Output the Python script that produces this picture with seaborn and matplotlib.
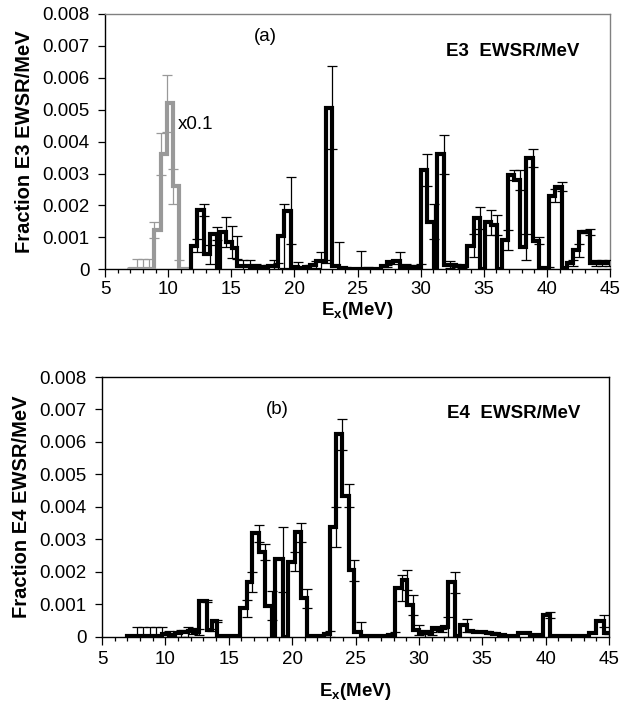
import numpy as np
import pandas as pd
import matplotlib
matplotlib.use("Agg")
import matplotlib.pyplot as plt
import seaborn as sns
from matplotlib.ticker import MultipleLocator, FixedLocator

# ---------------- data ----------------
# Panel (a): E3, gray part (shown x0.1), steps drawn "post" (value from x_i to x_{i+1}), error at x_i
e3_gray_x = [6.92, 7.5, 8.0, 8.5, 8.9, 9.42, 9.9, 10.4, 10.9, 11.7]
e3_gray_y = [0.0, 0.00002, 0.00002, 0.00002, 0.00123, 0.0036, 0.0052, 0.0026, 0.00002, 0.00002]
e3_gray_err = [0.0, 0.0003, 0.0003, 0.0003, 0.00026, 0.00066, 0.0009, 0.00054, 0.00026, 0.0]

# Panel (a): E3, black part, steps drawn "pre" (value from x_{i-1} to x_i), error at x_i
e3_x = [11.8, 12.29, 12.82, 13.34, 13.87, 14.13, 14.6, 15.08, 15.45, 15.97, 16.5,
        16.97, 17.45, 17.95, 18.4, 18.7, 19.18, 19.72, 20.25, 20.73, 21.2, 21.68,
        22.1, 22.48, 23.0, 23.55, 24.05, 24.55, 25.05, 25.3, 25.85, 26.35, 26.85,
        27.35, 27.85, 28.35, 28.85, 29.35, 30.0, 30.52, 31.05, 31.3, 31.84, 32.3,
        32.8, 33.25, 33.68, 34.2, 34.73, 35.1, 35.55, 36.05, 36.45, 36.9, 37.37,
        37.84, 38.37, 38.89, 39.34, 39.75, 40.13, 40.66, 41.18, 41.6, 42.1, 42.55,
        43.0, 43.43, 43.9, 44.4, 44.9]
e3_y = [0.0, 0.00074, 0.00186, 0.00047, 0.00112, 0.0, 0.00118, 0.00085, 0.00068, 0.0001, 0.0001,
        0.00008, 0.00005, 0.00005, 0.0001, 0.0001, 0.00104, 0.00184, 0.00008, 0.00003, 0.00008, 0.00015,
        0.00025, 0.00025, 0.00507, 0.0001, 0.00003, 0.00002, 0.00002, 0.00002, 0.00002, 0.00002, 0.00002,
        0.0001, 0.00022, 0.00025, 0.00008, 0.00008, 0.00008, 0.00311, 0.00149, 0.0, 0.0036, 0.00015,
        0.00012, 0.0001, 0.0001, 0.00074, 0.0016, 0.0, 0.00147, 0.00139, 0.0, 0.00092, 0.00295,
        0.0028, 0.0007, 0.00348, 0.0009, 0.00003, 0.00003, 0.00231, 0.00259, 0.00003, 0.0002, 0.0006,
        0.00118, 0.00116, 0.0002, 0.0002, 0.0002]
e3_err = [0.0, 0.0002, 0.0002, 0.0003, 0.0002, 0.0, 0.00047, 0.0005, 0.00037, 0.0002, 0.0002,
          0.0001, 0.0001, 0.0001, 0.0002, 0.0001, 0.001, 0.00104, 0.00015, 0.0, 0.00005, 0.0001,
          0.0003, 0.00005, 0.0013, 0.00075, 0.00003, 0.0, 0.0, 0.00055, 0.00005, 0.0, 0.0,
          0.00003, 0.00005, 0.0003, 0.0001, 0.00005, 0.0001, 0.0005, 0.00055, 0.0, 0.0006, 0.0001,
          0.00005, 0.00005, 0.0, 0.00037, 0.00035, 0.0, 0.0004, 0.0003, 0.0, 0.0003, 0.00015,
          0.0003, 0.0004, 0.00028, 0.0001, 0.00003, 0.00003, 0.0002, 0.00014, 0.0, 0.0001, 0.0002,
          0.00005, 0.0001, 0.0001, 0.0001, 0.0001]

# Panel (b): E4, steps drawn "pre", error at x_i
e4_x = [7.0, 7.75, 8.25, 8.75, 9.25, 9.75, 10.25, 10.75, 11.25, 11.75, 12.2, 12.66,
        13.26, 13.66, 14.05, 14.5, 15.0, 15.4, 15.9, 16.42, 16.87, 17.39, 17.87, 18.4,
        18.66, 19.3, 19.7, 20.2, 20.7, 21.17, 21.6, 22.1, 22.5, 23.0, 23.45, 23.93,
        24.45, 24.92, 25.4, 25.9, 26.4, 26.9, 27.4, 27.6, 28.1, 28.65, 29.1, 29.57,
        30.0, 30.5, 31.0, 31.54, 31.8, 32.33, 32.86, 33.25, 33.78, 34.3, 34.8, 35.3,
        35.8, 36.3, 36.8, 37.3, 37.8, 38.3, 38.8, 39.3, 39.83, 40.36, 40.9, 41.4,
        41.9, 42.4, 42.9, 43.4, 43.95, 44.57, 45.0]
e4_y = [0.0, 0.00003, 0.00003, 0.00003, 0.00003, 0.00003, 0.00008, 0.00005, 0.0001, 0.00015, 0.00018, 0.00015,
        0.0011, 0.0002, 0.00048, 0.00002, 0.00002, 0.00002, 0.00002, 0.00087, 0.00168, 0.00319, 0.00262, 0.00096,
        0.0, 0.00238, 0.0, 0.00231, 0.00321, 0.00118, 0.00002, 0.00002, 0.00003, 0.00008, 0.00337, 0.00624,
        0.00434, 0.00204, 0.00015, 0.00003, 0.00003, 0.00003, 0.00003, 0.00003, 0.00005, 0.00149, 0.00175, 0.00098,
        0.0002, 0.0001, 0.0001, 0.00026, 0.0002, 0.0003, 0.00167, 0.00003, 0.00036, 0.00018, 0.00016, 0.00015,
        0.00012, 0.00008, 0.00004, 0.00003, 0.00003, 0.0001, 0.0001, 0.00004, 0.00004, 0.00067, 0.00003, 0.00003,
        0.00003, 0.00003, 0.00003, 0.00003, 0.0001, 0.00049, 0.0001]
e4_err = [0.0, 0.00028, 0.00028, 0.00028, 0.00028, 0.00028, 0.0001, 0.00005, 0.0001, 0.00015, 0.0001, 0.0001,
          0.00003, 0.00003, 0.00003, 0.0, 0.0, 0.0, 0.0, 0.00025, 0.0003, 0.00026, 0.00025, 0.00045,
          0.0, 0.001, 0.0, 0.0003, 0.0003, 0.0003, 0.0, 0.0, 0.00003, 0.0001, 0.00062, 0.00048,
          0.00036, 0.00032, 0.0003, 0.0, 0.0, 0.0, 0.0, 0.0, 0.00008, 0.0004, 0.0003, 0.0003,
          0.00015, 0.0001, 0.00005, 0.00005, 0.00005, 0.0003, 0.00033, 0.0, 0.0002, 0.00003, 0.00003, 0.00003,
          0.00003, 0.0, 0.0, 0.0, 0.0, 0.0, 0.0, 0.0, 0.0, 0.0001, 0.0, 0.0,
          0.0, 0.0, 0.0, 0.0, 0.0, 0.00018, 0.00003]

y_ticks = [0, 0.001, 0.002, 0.003, 0.004, 0.005, 0.006, 0.007, 0.008]
y_tick_labels = ["0", "0.001", "0.002", "0.003", "0.004", "0.005", "0.006", "0.007", "0.008"]
x_ticks = [5, 10, 15, 20, 25, 30, 35, 40, 45]

# ---------------- style ----------------
sns.set_theme(style="ticks")
plt.rcParams["font.family"] = ["Liberation Sans", "DejaVu Sans"]
plt.rcParams["mathtext.fontset"] = "custom"
plt.rcParams["mathtext.rm"] = "Liberation Sans"
plt.rcParams["mathtext.bf"] = "Liberation Sans:bold"
plt.rcParams["text.color"] = "black"
plt.rcParams["axes.labelcolor"] = "black"
plt.rcParams["xtick.color"] = "black"
plt.rcParams["ytick.color"] = "black"

fig = plt.figure(figsize=(6.21, 7.09), dpi=100)
ax_a = fig.add_axes([105 / 621, 1 - 269.3 / 709, 505 / 621, 255.3 / 709])
ax_b = fig.add_axes([102 / 621, 1 - 636.7 / 709, 507 / 621, 259.7 / 709])

GRAY = "#999999"


def draw_steps(ax, x, y, err, where, color, lw=3.0):
    df = pd.DataFrame({"E": x, "val": y, "err": err})
    sns.lineplot(data=df, x="E", y="val", ax=ax, color=color, lw=lw,
                 drawstyle="steps-" + where, sort=False, estimator=None,
                 solid_joinstyle="miter", zorder=3)
    m = df["err"] > 0
    ax.errorbar(df.loc[m, "E"], df.loc[m, "val"], yerr=df.loc[m, "err"], fmt="none",
                ecolor=color, elinewidth=0.9, capsize=3.5, capthick=0.9, zorder=4)


draw_steps(ax_a, e3_gray_x, e3_gray_y, e3_gray_err, "post", GRAY)
draw_steps(ax_a, e3_x, e3_y, e3_err, "pre", "black")
draw_steps(ax_b, e4_x, e4_y, e4_err, "pre", "black")

panels = [
    (ax_a, "Fraction E3 EWSR/MeV", "(a)", "E3  EWSR/MeV", (37.3, 0.00684), (17.67, 0.00728), "#808080", 3, 1.5),
    (ax_b, "Fraction E4 EWSR/MeV", "(b)", "E4  EWSR/MeV", (37.5, 0.00687), (18.85, 0.00701), "black", 5, 9),
]
for ax, lab, panel, tag, tagpos, labpos, spine_col, tpad, lpad in panels:
    ax.set_xlim(5, 45)
    ax.set_ylim(0, 0.008)
    ax.xaxis.set_major_locator(FixedLocator(x_ticks))
    ax.xaxis.set_minor_locator(MultipleLocator(1))
    ax.set_yticks(y_ticks)
    ax.set_yticklabels(y_tick_labels)
    ax.tick_params(axis="y", which="major", direction="out", length=5, width=0.9,
                   labelsize=13.5, pad=6)
    ax.tick_params(axis="x", which="major", direction="out", length=5.5, width=0.9,
                   labelsize=13.5, pad=tpad)
    ax.tick_params(axis="x", which="minor", direction="out", length=3, width=0.9)
    for s in ["left", "bottom"]:
        ax.spines[s].set_color("black")
        ax.spines[s].set_linewidth(1.0)
    for s in ["top", "right"]:
        ax.spines[s].set_visible(True)
        ax.spines[s].set_color(spine_col)
        ax.spines[s].set_linewidth(1.0)
    ax.set_xlabel(r"$\mathbf{E_x}$(MeV)", fontsize=13.5, fontweight="bold", labelpad=lpad)
    ax.set_ylabel(lab, fontsize=14.5, fontweight="bold", labelpad=6)
    ax.text(labpos[0], labpos[1], panel, fontsize=13.5, ha="center", va="center")
    ax.text(tagpos[0], tagpos[1], tag, fontsize=13.5, fontweight="bold", ha="center", va="center")
    ax.set_facecolor("white")

ax_a.text(10.78, 0.00455, "x0.1", fontsize=13.5, ha="left", va="center")

fig.savefig("out.png", dpi=100, facecolor="white")
